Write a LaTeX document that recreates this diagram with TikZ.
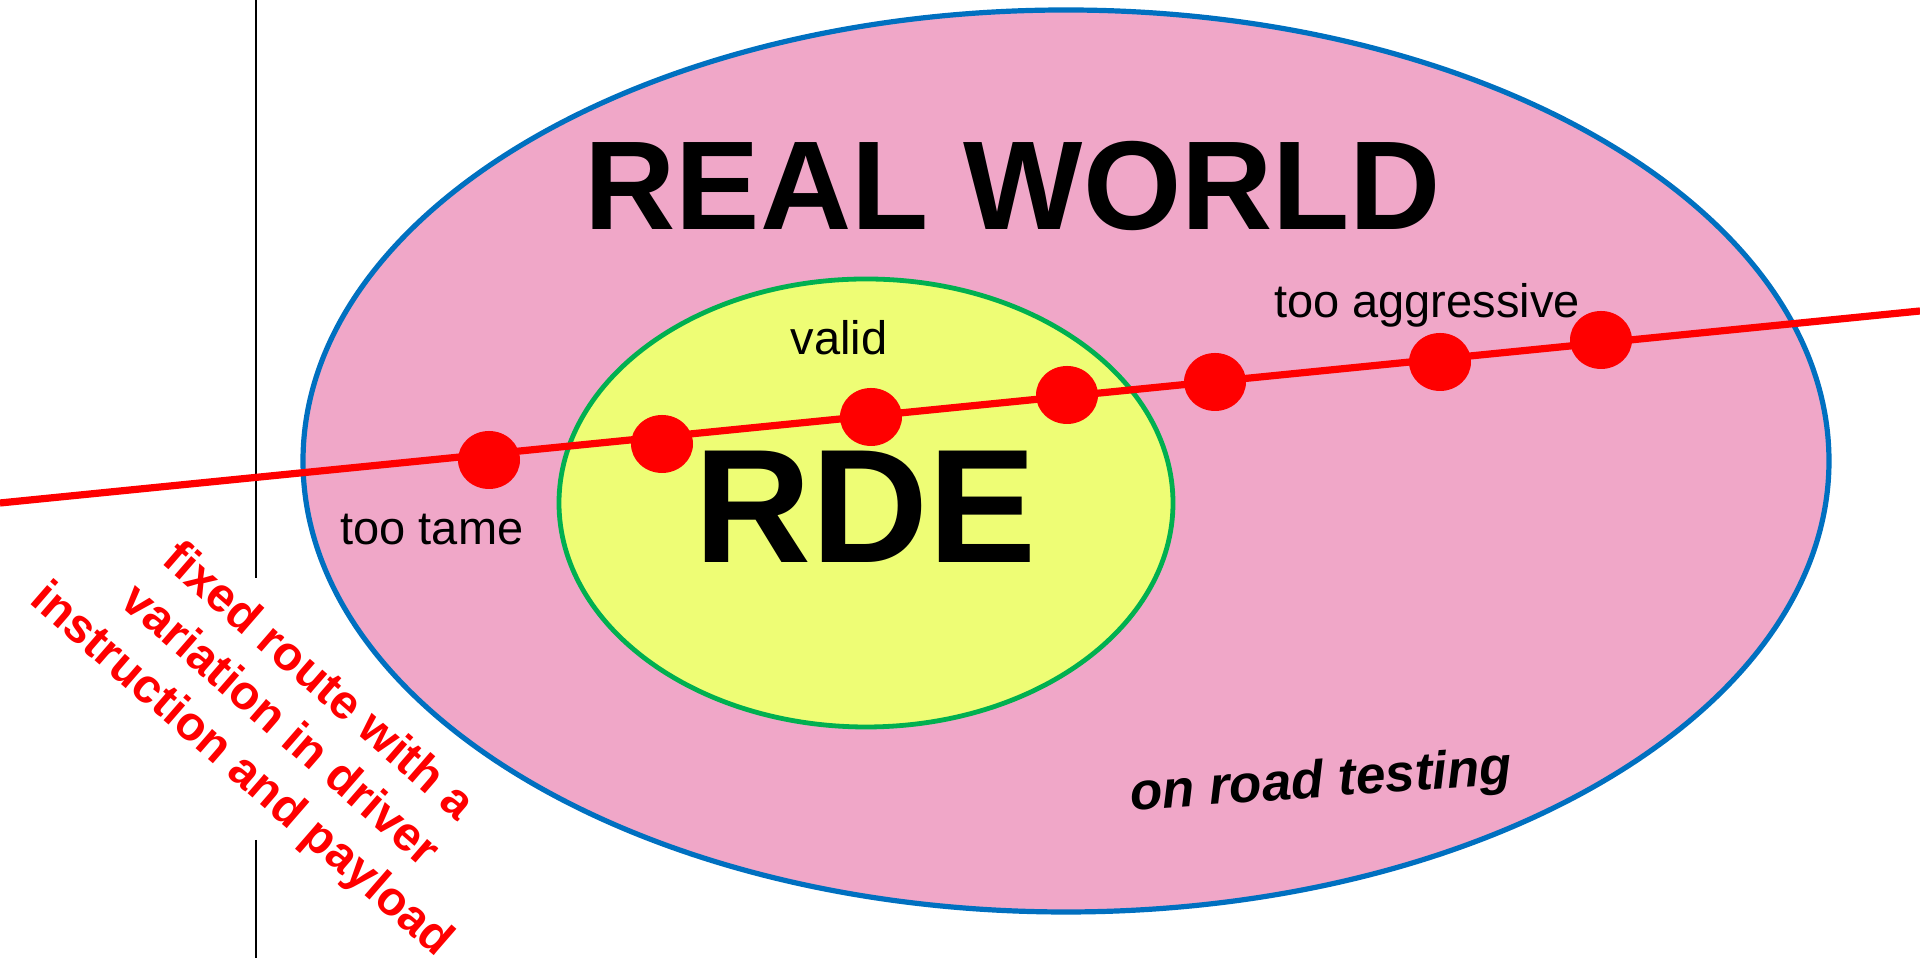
\documentclass[tikz,border=0pt]{standalone}
\usepackage{fontspec}
\setmainfont{Liberation Sans}
\usetikzlibrary{shapes.geometric}
\definecolor{pinkfill}{RGB}{240,167,200}
\definecolor{blueline}{RGB}{0,112,192}
\definecolor{greenline}{RGB}{0,176,80}
\definecolor{yellowfill}{RGB}{238,253,117}
\definecolor{redc}{RGB}{255,0,0}
\begin{document}
\begin{tikzpicture}[x=0.25pt,y=-0.25pt,
  reddot/.style={ellipse, fill=redc, minimum width=15.5pt, minimum height=14.5pt, inner sep=0pt},
  lbl/.style={font=\fontsize{11.75pt}{14pt}\selectfont, anchor=base, inner sep=0pt},
  bigtitle/.style={font=\fontsize{31.6pt}{38pt}\selectfont\bfseries, anchor=base, inner sep=0pt},
]
\useasboundingbox (0,0) rectangle (1920,969);
\fill[white] (0,0) rectangle (1920,969);
% thin vertical line
\coordinate (v1) at (256,0);
\coordinate (v2) at (256,578);
\coordinate (v3) at (256,840);
\coordinate (v4) at (256,958);
\draw[line width=0.4pt] (v1) -- (v2);
\draw[line width=0.4pt] (v3) -- (v4);
% ellipses
\draw[blueline, fill=pinkfill, line width=1.3pt] (1066,461) ellipse [x radius=763, y radius=451];
\draw[greenline, fill=yellowfill, line width=1.2pt] (866,503) ellipse [x radius=307, y radius=224];
% red line
\coordinate (r0) at (0,503);
\coordinate (r1) at (1920,311);
\draw[redc, line width=1.8pt] (r0) -- (r1);
% dots
\node[reddot] (d1) at (489,460) {};
\node[reddot] (d2) at (662,444) {};
\node[reddot] (d3) at (871,417) {};
\node[reddot] (d4) at (1067,395) {};
\node[reddot] (d5) at (1215,382) {};
\node[reddot] (d6) at (1440,362) {};
\node[reddot] (d7) at (1601,340) {};
% texts
\node[bigtitle] (rw) at (1013,230) {REAL WORLD};
\node[font=\fontsize{40.5pt}{48pt}\selectfont\bfseries, anchor=base, inner sep=0pt] (rde) at (866,563) {RDE};
\node[lbl] (valid) at (839,355) {valid};
\node[lbl] (tame) at (432,545) {too tame};
\node[lbl] (aggr) at (1427,318) {too aggressive};
\node[font=\fontsize{13.25pt}{16pt}\selectfont\bfseries\itshape, anchor=base, inner sep=0pt, rotate=4] (road) at (1322,797) {on road testing};
\node[font=\fontsize{12pt}{14.6pt}\selectfont\bfseries, text=redc, align=center, inner sep=0pt, rotate=-41] (route) at (279,727) {fixed route with a\\variation in driver\\instruction and payload};
\end{tikzpicture}
\end{document}
